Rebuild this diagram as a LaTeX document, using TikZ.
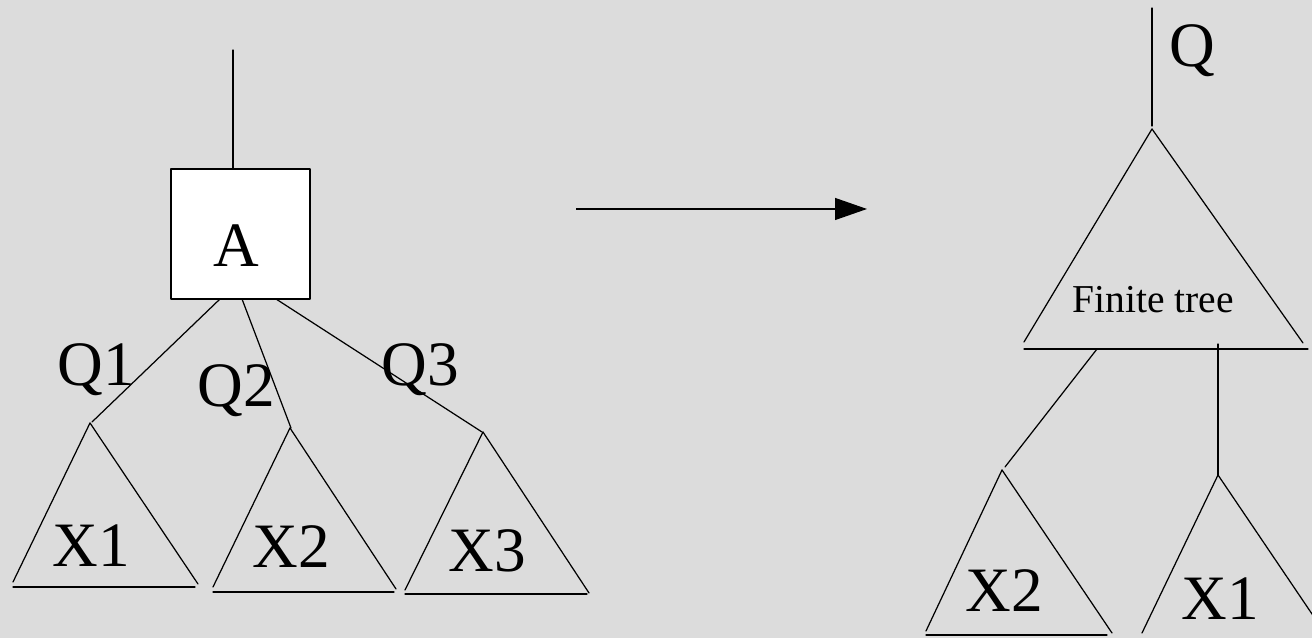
\documentclass[tikz,border=0pt]{standalone}
\usepackage{fontspec}
\setmainfont{Liberation Serif}
\usetikzlibrary{arrows.meta,calc}
\usepackage{tkz-euclide}
\definecolor{BackClr}{RGB}{220,220,220}
\tikzset{bigtxt/.style={font=\fontsize{36}{40}\selectfont,anchor=base,inner sep=0pt},
  smalltxt/.style={font=\fontsize{22.5}{26}\selectfont,anchor=base,inner sep=0pt}}

\begin{document}
\begin{tikzpicture}[x=0.02cm,y=0.02cm]
\tkzSetUpLine[line width=0.7pt,color=black]

\fill[BackClr] (0,0) rectangle (1312,638);
\clip (0,0) rectangle (1312,638);

% left: node A with three subtrees
\tkzDefPoint(233,588){Sa}
\tkzDefPoint(233,469){Sb}

\tkzDefPoint(171,339){A1}
\tkzDefPoint(310,339){A2}
\tkzDefPoint(310,469){A3}
\tkzDefPoint(171,469){A4}

\tkzDefPoint(220,339){Qa1}
\tkzDefPoint(92,216){Qb1}
\tkzDefPoint(242,339){Qa2}
\tkzDefPoint(291,210){Qb2}
\tkzDefPoint(276,339){Qa3}
\tkzDefPoint(482,206){Qb3}

\tkzDefPoint(90,215){T1}
\tkzDefPoint(13,56){T1l}
\tkzDefPoint(198,54){T1r}
\tkzDefPoint(13,51){B1l}
\tkzDefPoint(195,51){B1r}

\tkzDefPoint(290,210){T2}
\tkzDefPoint(213,51){T2l}
\tkzDefPoint(396,49){T2r}
\tkzDefPoint(213,46){B2l}
\tkzDefPoint(394,46){B2r}

\tkzDefPoint(483,206){T3}
\tkzDefPoint(405,48){T3l}
\tkzDefPoint(589,45){T3r}
\tkzDefPoint(405,44){B3l}
\tkzDefPoint(587,44){B3r}

\tkzFillPolygon[fill=white](A1,A2,A3,A4)
\tkzDrawPolygon(A1,A2,A3,A4)
\tkzDrawSegments(Sa,Sb Qa1,Qb1 Qa2,Qb2 Qa3,Qb3)
\tkzDrawSegments(T1,T1l T1,T1r B1l,B1r T2,T2l T2,T2r B2l,B2r T3,T3l T3,T3r B3l,B3r)

\node (lblA) [bigtxt] at (236,371) {A};
\node (lblQ1) [bigtxt] at (96,252) {Q1};
\node (lblQ2) [bigtxt] at (236,231) {Q2};
\node (lblQ3) [bigtxt] at (420,252) {Q3};
\node (lblX1) [bigtxt] at (91,71) {X1};
\node (lblX2) [bigtxt] at (291,70) {X2};
\node (lblX3) [bigtxt] at (487,66) {X3};

% arrow
\tkzDefPoint(576,429){R1}
\tkzDefPoint(867,429){R2}
\draw[line width=0.7pt,-{Triangle[length=0.64cm,width=0.44cm]}] (R1) -- (R2);

% right: finite tree
\tkzDefPoint(1152,630){Qa}
\tkzDefPoint(1152,512){Qb}

\tkzDefPoint(1152,509){F}
\tkzDefPoint(1024,296){Fl}
\tkzDefPoint(1303,295){Fr}
\tkzDefPoint(1024,289){Fbl}
\tkzDefPoint(1308,289){Fbr}

\tkzDefPoint(1097,289){La}
\tkzDefPoint(1005,171){Lb}
\tkzDefPoint(1218,294){Va}
\tkzDefPoint(1218,163){Vb}

\tkzDefPoint(1002,168){U2}
\tkzDefPoint(926,7){U2l}
\tkzDefPoint(1112,5){U2r}
\tkzDefPoint(926,3){C2l}
\tkzDefPoint(1107,3){C2r}

\tkzDefPoint(1218,163){U1}
\tkzDefPoint(1142,5){U1l}
\tkzDefPoint(1335,-10){U1r}

\tkzDrawSegments(Qa,Qb F,Fl F,Fr Fbl,Fbr La,Lb Va,Vb)
\tkzDrawSegments(U2,U2l U2,U2r C2l,C2r U1,U1l U1,U1r)

\node (lblQ) [bigtxt] at (1192,571) {Q};
\node (lblF) [smalltxt] at (1153,325) {Finite tree};
\node (lblY2) [bigtxt] at (1004,26) {X2};
\node (lblY1) [bigtxt] at (1220,18) {X1};

\end{tikzpicture}
\end{document}
